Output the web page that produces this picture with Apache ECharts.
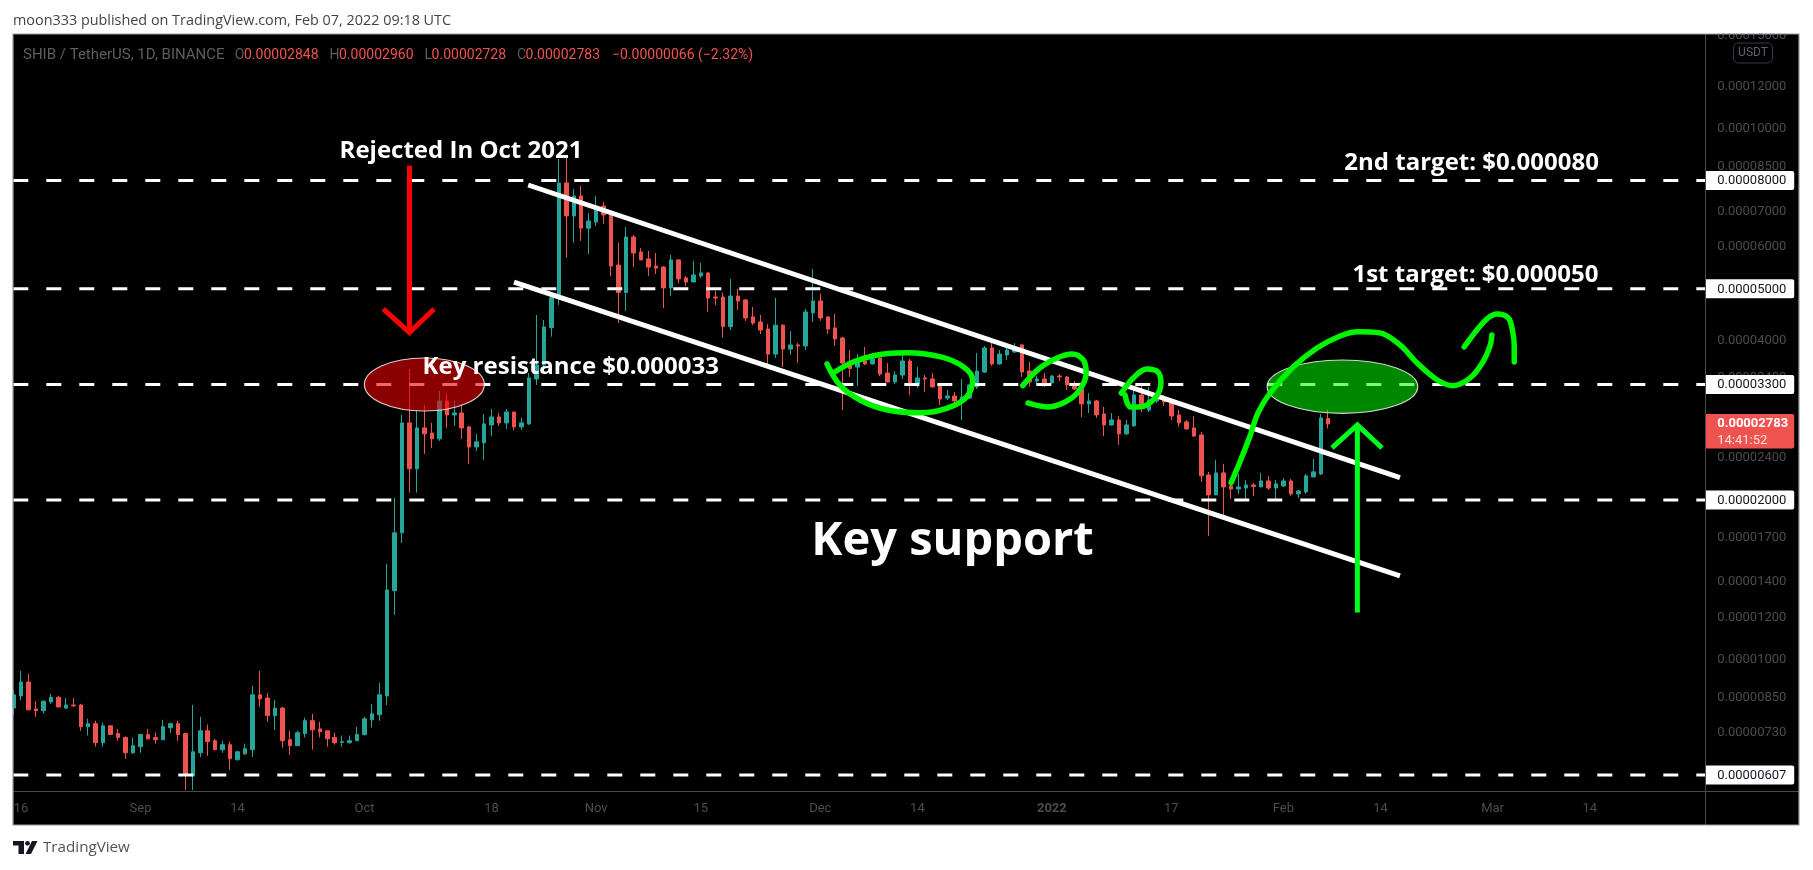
<!DOCTYPE html>
<html><head><meta charset="utf-8">
<style>html,body{margin:0;padding:0;background:#fff}#c{width:1813px;height:870px}</style>
<script src="https://cdn.jsdelivr.net/npm/echarts@6/dist/echarts.min.js"></script>
</head><body><div id="c"></div>
<script>
// All prices are in units of 0.00000001 USDT. Day numbers count from 15 Aug 2021 = 0.
const opens = [811,855,908,808,802,833,850,811,822,822,
748,758,698,751,726,714,668,686,723,714,
707,745,758,726,604,668,735,704,677,692,
648,665,677,859,847,785,811,707,689,726,
768,741,735,714,699,698,704,723,771,788,
855,1350,1735,2795,2290,2735,2675,2608,3074,2893,
2918,2747,2518,2563,2770,2868,2795,2930,2747,2783,
3382,3594,4225,4870,7915,6860,7480,6505,6680,7160,
6890,5543,4920,6260,5865,5692,5520,5495,5020,5667,
5242,5150,5288,5358,4825,4825,4244,4845,4764,4426,
4330,4200,3767,4270,3850,3920,3903,4505,4743,4426,
4220,4040,3640,3560,3656,3610,3705,3470,3338,3440,
3656,3310,3397,3382,3280,3113,3140,3074,3113,3266,
3485,3868,3610,3753,3800,3920,3500,3352,3382,3324,
3425,3412,3295,3238,3035,3074,2905,2770,2831,2665,
2760,3155,2956,3074,3074,3047,2893,2807,2735,2653,
2230,2045,2250,2126,2098,2107,2135,2117,2173,2107,
2126,2173,2054,2071,2211,2240,2848];
const closes = [859,908,805,802,836,850,815,822,819,748,
758,698,751,723,714,668,689,723,710,707,
748,758,723,607,671,735,701,677,692,651,
671,680,859,844,785,811,704,689,729,768,
738,732,710,698,701,704,723,774,791,859,
1354,1735,2795,2290,2735,2665,2608,3074,2893,2918,
2735,2518,2574,2783,2868,2795,2930,2747,2795,3397,
3594,4238,4812,7915,6860,7480,6505,6710,7160,6890,
5520,4920,6260,5840,5667,5495,5470,5020,5667,5220,
5150,5310,5358,4805,4805,4244,4845,4743,4407,4310,
4183,3767,4270,3850,3920,3903,4523,4743,4407,4200,
4023,3625,3540,3660,3610,3688,3455,3338,3440,3656,
3310,3397,3382,3266,3100,3140,3074,3127,3295,3500,
3868,3610,3767,3835,3870,3485,3338,3382,3324,3425,
3412,3295,3238,3035,3074,2893,2770,2831,2665,2770,
3155,3020,3087,3100,3060,2880,2795,2723,2640,2221,
2045,2250,2117,2098,2117,2135,2122,2173,2107,2145,
2173,2054,2080,2221,2260,2856,2783];
const lows = [788,840,803,781,792,826,815,808,815,735,
720,686,686,723,704,651,665,668,707,695,
707,729,704,568,568,656,659,677,668,620,
648,662,656,815,764,738,683,662,689,714,
677,714,686,692,686,695,704,720,745,768,
822,1215,1660,2065,2065,2443,2507,2585,2735,2760,
2608,2340,2475,2380,2640,2760,2723,2711,2711,2770,
3295,3562,4063,4663,5724,6105,6155,5815,6565,6620,
5280,4310,4543,5495,5667,5288,5333,4600,4850,5120,
5060,5150,5242,4523,4660,4045,4183,4562,4350,4270,
4110,3610,3705,3563,3753,3625,3835,4330,4350,4110,
3903,2956,3412,3280,3590,3600,3425,3338,3310,3382,
3155,3252,3195,3266,3020,3087,3047,2831,3100,3238,
3470,3580,3595,3672,3790,3412,3270,3320,3266,3324,
3352,3224,3224,2868,2918,2856,2640,2760,2540,2653,
2750,2930,2930,3047,3008,2831,2747,2711,2630,2163,
1712,2045,1867,2010,2054,2001,2036,2117,2089,2001,
2117,2036,2019,2054,2211,2230,2728];
const highs = [878,953,941,836,836,863,855,847,847,826,
774,768,761,751,741,717,714,726,741,729,
771,761,768,729,822,781,755,710,704,701,
674,695,893,953,866,840,815,735,735,778,
791,764,735,729,720,720,748,781,826,905,
1516,2018,2893,3531,2947,3020,2795,3210,3170,3074,
3020,2760,2665,2905,2968,2918,2968,2930,2856,3470,
4465,4368,4830,8785,8830,7710,7810,6950,7480,7290,
6890,6105,6535,6315,5968,5893,5840,5520,5790,5690,
5288,5643,5595,5358,4955,4915,5220,5000,4785,4622,
4465,4290,4805,4290,4165,3955,4580,5450,4895,4440,
4485,4060,3835,3767,3886,3785,3720,3625,3500,3753,
3688,3563,3440,3470,3290,3224,3195,3382,3310,3785,
3903,3955,3835,3955,3950,3930,3640,3430,3470,3440,
3455,3425,3352,3260,3180,3087,2995,2918,2880,2831,
3238,3280,3266,3155,3155,3060,2956,2831,2880,2688,
2260,2380,2340,2182,2240,2182,2155,2250,2221,2182,
2201,2192,2089,2240,2390,2905,2960];

const xTickDays   = [1,17,30,47,64,78,92,108,121,139,155,170,183,198,211];
const xTickLabels = ['16','Sep','14','Oct','18','Nov','15','Dec','14','2022','17','Feb','14','Mar','14'];
const yTicks      = [15000,12000,10000,8500,7000,6000,4000,3400,2400,1700,1400,1200,1000,850,730,610];
const levels      = [8000,5000,3300,2000,607];
const lastPrice   = 2783;

const upperChannel = [[68.9,7845],[185.6,2204]];
const lowerChannel = [[67.0,5150],[185.6,1439]];
const redShaft = [[53.0,8530],[53.0,4135]];
const redHead  = [[49.5,4582],[53.0,4135],[56.3,4582]];
const greenShaft = [[179.9,1228],[179.9,2770]];
const greenHead  = [[176.5,2507],[179.9,2770],[183.2,2507]];
const sketchRise = [[163.0,2156],[164.2,2363],[165.5,2634],[166.6,2918],[168.2,3180],[171.3,3562],[174.5,3868],[177.6,4075],[180.0,4150],[182.9,4130],[185.6,3920],[187.9,3625],[190.6,3367],[192.7,3285],[195.0,3397],[196.7,3640],[197.7,3920],[197.9,4094]];
const sketchPeak = [[194.2,3886],[195.9,4183],[197.4,4407],[198.6,4485],[200.1,4407],[200.7,4147],[200.9,3886],[200.9,3640]];
const sketchOval = [[109.7,3470],[112.4,3640],[115.6,3753],[119.6,3790],[124.0,3725],[127.1,3570],[128.4,3367],[127.6,3130],[125.0,2980],[121.4,2920],[117.0,2956],[113.3,3087],[110.6,3295],[108.9,3610]];
const sketchHookA = [[135.1,3285],[137.4,3547],[139.7,3705],[141.7,3770],[143.2,3672],[143.6,3470],[142.5,3195],[140.5,3047],[138.4,2995],[135.8,3047]];
const sketchHookB = [[148.3,3180],[149.9,3397],[151.7,3530],[153.2,3485],[153.6,3324],[152.8,3113],[150.8,2995],[149.5,2995],[148.8,3155]];
// centre day, half-width in days, top price, bottom price
const zoneRed   = [55.0,8.03,3704,2943];
const zoneGreen = [177.9,10.08,3672,2914];
const noteTexts = ['Rejected In Oct 2021','Key resistance $0.000033','2nd target: $0.000080','1st target: $0.000050','Key support'];
const noteDays  = [59.9,74.6,195.2,195.7,125.7];
const notePrices= [9080,3560,8620,5315,1670];
const noteSizes = [24,24,24,24,47];

const UI = 'Roboto, "Open Sans", sans-serif';
const NOTE = '"Open Sans", "Noto Sans", sans-serif';
const xMin = -0.03, xMax = 226.53;
const fmt = v => (v/1e8).toFixed(8);
const candles = opens.map((o,i)=>[i,o,closes[i],lows[i],highs[i]]);

function sketch(data, color, z){
  return {type:'line',data,symbol:'none',smooth:0.35,z,silent:true,animation:false,clip:false,
    lineStyle:{color,width:5.5,cap:'round',join:'round'}};
}
function straight(data, color, width, z){
  return {type:'line',data,symbol:'none',z,silent:true,animation:false,clip:false,
    lineStyle:{color,width,cap:'butt',join:'miter'}};
}
function zone(z0, fill, z){
  return {type:'custom',data:[z0],z,silent:true,animation:false,clip:false,encode:{x:0,y:2},
    renderItem:(p,api)=>{
      const c=api.coord([api.value(0),api.value(2)]), e=api.coord([api.value(0)+api.value(1),api.value(3)]);
      return {type:'ellipse',shape:{cx:c[0],cy:(c[1]+e[1])/2,rx:e[0]-c[0],ry:(e[1]-c[1])/2},
        style:{fill,stroke:'rgba(255,255,255,0.8)',lineWidth:1.2}};
    }};
}
const series = [
 {type:'candlestick',data:candles,barWidth:4,z:2,clip:true,animation:false,silent:true,
  itemStyle:{color:'#26a69a',color0:'#ef5350',borderColor:'#26a69a',borderColor0:'#ef5350',borderWidth:1}},
 ...levels.map(l=>({type:'line',data:[[xMin,l],[xMax,l]],symbol:'none',z:3,silent:true,animation:false,
    lineStyle:{color:'#ffffff',width:3,type:[15,18]}})),
 zone(zoneRed,'rgba(232,0,0,0.6)',4),
 zone(zoneGreen,'rgba(0,255,0,0.53)',4),
 straight(upperChannel,'#ffffff',5,5),
 straight(lowerChannel,'#ffffff',5,5),
 straight(redShaft,'#ff0000',5,6),
 straight(redHead,'#ff0000',5,6),
 straight(greenShaft,'#00ff1a',5,6),
 straight(greenHead,'#00ff1a',5,6),
 sketch(sketchRise,'#00f500',6),
 sketch(sketchPeak,'#00f500',6),
 sketch(sketchOval,'#00f500',6),
 sketch(sketchHookA,'#00f500',6),
 sketch(sketchHookB,'#00f500',6),
 // note texts placed in data coordinates
 {type:'custom',data:noteTexts.map((t,i)=>[noteDays[i],notePrices[i]]),z:8,silent:true,animation:false,clip:false,encode:{x:0,y:1},
  renderItem:(p,api)=>{const c=api.coord([api.value(0),api.value(1)]);const i=p.dataIndex;
    return {type:'text',style:{x:c[0],y:c[1],text:noteTexts[i],fill:'#ffffff',align:'center',verticalAlign:'middle',
      font:'bold '+noteSizes[i]+'px '+NOTE}};}},
 // price-axis tick labels
 {type:'custom',data:yTicks.map(v=>[xMax,v]),z:9,silent:true,animation:false,clip:false,encode:{x:0,y:1},
  renderItem:(p,api)=>{const c=api.coord([xMax,api.value(1)]);
    return {type:'text',style:{x:c[0]+11.5,y:c[1],text:fmt(api.value(1)),fill:'#4c4c4c',align:'left',verticalAlign:'middle',font:'13px '+UI}};}},
 // white price tags for the horizontal levels
 {type:'custom',data:levels.map(v=>[xMax,v]),z:10,silent:true,animation:false,clip:false,encode:{x:0,y:1},
  renderItem:(p,api)=>{const c=api.coord([xMax,api.value(1)]);
    return {type:'group',children:[
      {type:'rect',shape:{x:c[0],y:c[1]-9.5,width:88.5,height:19,r:[0,2,2,0]},style:{fill:'#ffffff'}},
      {type:'text',style:{x:c[0]+11.5,y:c[1]+0.5,text:fmt(api.value(1)),fill:'#131722',align:'left',verticalAlign:'middle',font:'13px '+UI}}
    ]};}},
 // current price tag
 {type:'custom',data:[[xMax,lastPrice]],z:11,silent:true,animation:false,clip:false,encode:{x:0,y:1},
  renderItem:(p,api)=>{const c=api.coord([xMax,api.value(1)]);
    return {type:'group',children:[
      {type:'rect',shape:{x:c[0],y:c[1]-10,width:88.5,height:34.5,r:[0,2,2,0]},style:{fill:'#ef5350'}},
      {type:'text',style:{x:c[0]+11.5,y:c[1],text:fmt(api.value(1)),fill:'#ffffff',align:'left',verticalAlign:'middle',font:'bold 13px '+UI}},
      {type:'text',style:{x:c[0]+11.5,y:c[1]+17,text:'14:41:52',fill:'#ffe0de',align:'left',verticalAlign:'middle',font:'13px '+UI}}
    ]};}}
];
const legendBits = [
 ['SHIB / TetherUS, 1D, BINANCE',23,'#5d5d5d',15],['O',234.7,'#5d5d5d',14],['0.00002848',244,'#ef5350',14],
 ['H',329.6,'#5d5d5d',14],['0.00002960',339,'#ef5350',14],['L',424.5,'#5d5d5d',14],['0.00002728',431.6,'#ef5350',14],
 ['C',517,'#5d5d5d',14],['0.00002783',525.5,'#ef5350',14],['\u22120.00000066 (\u22122.32%)',612,'#ef5350',14]];
const graphic = [
 {type:'rect',z:-1,shape:{x:13,y:34,width:1786,height:791},style:{fill:'#000000'}},
 {type:'rect',z:50,shape:{x:0,y:0,width:1813,height:33.5},style:{fill:'#ffffff'}},
 {type:'rect',z:50,shape:{x:0,y:33,width:12.6,height:800},style:{fill:'#ffffff'}},
 {type:'rect',z:51,shape:{x:13,y:34,width:1786,height:791},style:{fill:'none',stroke:'#9a9aa4',lineWidth:1.2}},
 {type:'line',z:12,shape:{x1:1705.5,y1:34,x2:1705.5,y2:825},style:{stroke:'#4a4a4a',lineWidth:1}},
 {type:'line',z:12,shape:{x1:13,y1:791.5,x2:1799,y2:791.5},style:{stroke:'#4a4a4a',lineWidth:1}},
 {type:'rect',z:13,shape:{x:1733.5,y:43,width:39,height:20,r:5},style:{fill:'#000000',stroke:'#363a45',lineWidth:1}},
 {type:'text',z:14,style:{x:1753,y:53,text:'USDT',fill:'#5d606b',align:'center',verticalAlign:'middle',font:'12px '+UI}},
 {type:'text',z:52,style:{x:13,y:21,text:'moon333 published on TradingView.com, Feb 07, 2022 09:18 UTC',fill:'#444444',align:'left',verticalAlign:'middle',font:'14.4px '+NOTE}},
 ...legendBits.map(b=>({type:'text',z:14,style:{x:b[1],y:55,text:b[0],fill:b[2],align:'left',verticalAlign:'middle',font:b[3]+'px '+UI}})),
 {type:'polygon',z:14,shape:{points:[[13,841],[24,841],[24,854],[18.5,854],[18.5,845.5],[13,845.5]]},style:{fill:'#131722'}},
 {type:'circle',z:14,shape:{cx:27.5,cy:843.3,r:2.4},style:{fill:'#131722'}},
 {type:'polygon',z:14,shape:{points:[[32,841],[37.5,841],[31,854],[25.5,854]]},style:{fill:'#131722'}},
 {type:'text',z:14,style:{x:43,y:848,text:'TradingView',fill:'#50535e',align:'left',verticalAlign:'middle',font:'15.2px '+NOTE}}
];
const chart = echarts.init(document.getElementById('c'),null,{renderer:'canvas'});
chart.setOption({
 animation:false,backgroundColor:'transparent',tooltip:{show:false},legend:{show:false},
 grid:{left:13.3,width:1692.4,top:34,height:757,containLabel:false},
 graphic,
 xAxis:{type:'value',min:xMin,max:xMax,splitLine:{show:false},axisLine:{show:false},axisTick:{show:false},
   axisLabel:{show:true,customValues:xTickDays,margin:11,color:'#4c4c4c',fontFamily:UI,fontSize:13,hideOverlap:false,
     formatter:v=>{const i=xTickDays.indexOf(v);const s=xTickLabels[i];return s==='2022'?'{b|2022}':s;},
     rich:{b:{fontWeight:'bold',color:'#4c4c4c',fontFamily:UI,fontSize:13}}}},
 yAxis:{type:'log',logBase:10,min:566,max:15104,position:'right',splitLine:{show:false},minorSplitLine:{show:false},
   axisLine:{show:false},axisTick:{show:false},axisLabel:{show:false}},
 series
});
</script></body></html>
